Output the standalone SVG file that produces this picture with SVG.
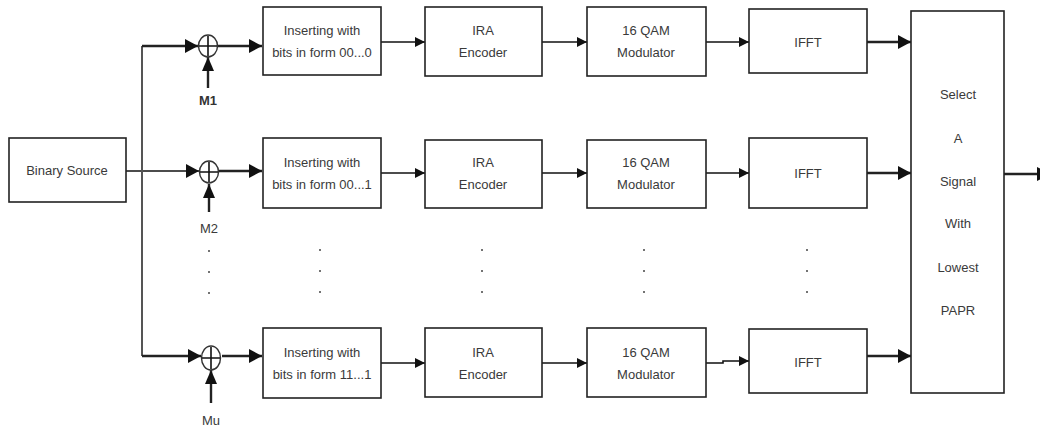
<svg xmlns="http://www.w3.org/2000/svg" width="1040" height="430" viewBox="0 0 1040 430">
<defs>
<marker id="big" markerUnits="userSpaceOnUse" markerWidth="13" markerHeight="14" refX="13" refY="7" orient="auto"><path d="M0,0 L13,7 L0,14 Z" fill="#111"/></marker>
<marker id="small" markerUnits="userSpaceOnUse" markerWidth="10" markerHeight="10" refX="10" refY="5" orient="auto"><path d="M0,0 L10,5 L0,10 Z" fill="#111"/></marker>
<marker id="up" markerUnits="userSpaceOnUse" markerWidth="12" markerHeight="14" refX="14" refY="6" orient="auto"><path d="M0,0 L14,6 L0,12 Z" fill="#111"/></marker>
</defs>
<style>
.box{fill:#fff;stroke:#222;stroke-width:1.6}
.t{font-family:"Liberation Sans",Arial,sans-serif;font-size:13px;fill:#3a3a3a;text-anchor:middle}
.lab{font-family:"Liberation Sans",Arial,sans-serif;font-size:13px;fill:#333;text-anchor:middle;font-weight:bold}
.thin{stroke:#111;stroke-width:1.6;fill:none}
.thick{stroke:#222;stroke-width:2.4;fill:none}
.trunk{stroke:#555;stroke-width:2;fill:none}
.sum{fill:#fff;stroke:#333;stroke-width:1.4}
.dot{fill:#444}
</style>
<g id="connectors">
<line class="thin" x1="126" y1="171" x2="199" y2="171" marker-end="url(#big)"/>
<path class="trunk" d="M142,356 L142,46"/>
<line class="thick" x1="142" y1="46" x2="198" y2="46" marker-end="url(#big)"/>
<line class="thick" x1="142" y1="356" x2="201" y2="356" marker-end="url(#big)"/>
<line class="thick" x1="218" y1="46" x2="262" y2="46" marker-end="url(#big)"/>
<line class="thick" x1="219" y1="171" x2="262" y2="171" marker-end="url(#big)"/>
<line class="thick" x1="222" y1="356" x2="262" y2="356" marker-end="url(#big)"/>
<line class="thick" x1="208" y1="88" x2="208" y2="57" marker-end="url(#up)"/>
<line class="thick" x1="209" y1="212" x2="209" y2="184" marker-end="url(#up)"/>
<line class="thick" x1="211" y1="403" x2="211" y2="370" marker-end="url(#up)"/>
<line class="thin" x1="381" y1="42" x2="425" y2="42" marker-end="url(#small)"/>
<line class="thin" x1="381" y1="173" x2="425" y2="173" marker-end="url(#small)"/>
<line class="thin" x1="381" y1="363" x2="425" y2="363" marker-end="url(#small)"/>
<line class="thin" x1="542" y1="42" x2="587" y2="42" marker-end="url(#small)"/>
<line class="thin" x1="542" y1="173" x2="587" y2="173" marker-end="url(#small)"/>
<line class="thin" x1="542" y1="363" x2="587" y2="363" marker-end="url(#small)"/>
<line class="thin" x1="706" y1="42" x2="749" y2="42" marker-end="url(#small)"/>
<line class="thin" x1="706" y1="173" x2="749" y2="173" marker-end="url(#small)"/>
<path class="thin" d="M706,363 L723,363 L723,361 L749,361" marker-end="url(#small)"/>
<line class="thick" x1="867" y1="42" x2="911" y2="42" marker-end="url(#big)"/>
<line class="thick" x1="867" y1="173" x2="911" y2="173" marker-end="url(#big)"/>
<line class="thick" x1="867" y1="356" x2="911" y2="356" marker-end="url(#big)"/>
<line class="thick" x1="1004" y1="174" x2="1050" y2="174" marker-end="url(#big)"/>
</g>
<g id="binary-source"><rect class="box" x="9" y="138" width="117" height="64"/><text class="t" x="67" y="175">Binary Source</text></g>
<g id="sum1"><ellipse class="sum" cx="208" cy="46" rx="9.5" ry="11"/><path class="thin" d="M199,46 H217 M208,36 V56" stroke-width="1.2"/><text class="lab" x="208" y="105">M1</text></g>
<g id="sum2"><ellipse class="sum" cx="209" cy="172" rx="9.5" ry="11"/><path class="thin" d="M200,172 H218 M209,162 V182" stroke-width="1.2"/><text class="t" x="209" y="233">M2</text></g>
<g id="sumu"><ellipse class="sum" cx="211" cy="358" rx="9.5" ry="12"/><path class="thin" d="M202,358 H220 M211,347 V369" stroke-width="1.2"/><text class="t" x="211" y="425">Mu</text></g>
<g id="insert1"><rect class="box" x="263" y="7" width="118" height="68"/><text class="t" x="322" y="35">Inserting with</text><text class="t" x="322" y="57">bits in form 00...0</text></g>
<g id="insert2"><rect class="box" x="263" y="138" width="118" height="70"/><text class="t" x="322" y="167">Inserting with</text><text class="t" x="322" y="189">bits in form 00...1</text></g>
<g id="insertu"><rect class="box" x="263" y="328" width="118" height="70"/><text class="t" x="322" y="357">Inserting with</text><text class="t" x="322" y="379">bits in form 11...1</text></g>
<g id="ira1"><rect class="box" x="425" y="7" width="117" height="69"/><text class="t" x="483" y="35">IRA</text><text class="t" x="483" y="57">Encoder</text></g>
<g id="ira2"><rect class="box" x="425" y="140" width="117" height="68"/><text class="t" x="483" y="167">IRA</text><text class="t" x="483" y="189">Encoder</text></g>
<g id="irau"><rect class="box" x="425" y="328" width="117" height="69"/><text class="t" x="483" y="357">IRA</text><text class="t" x="483" y="379">Encoder</text></g>
<g id="qam1"><rect class="box" x="587" y="7" width="119" height="69"/><text class="t" x="646" y="35">16 QAM</text><text class="t" x="646" y="57">Modulator</text></g>
<g id="qam2"><rect class="box" x="587" y="140" width="119" height="68"/><text class="t" x="646" y="167">16 QAM</text><text class="t" x="646" y="189">Modulator</text></g>
<g id="qamu"><rect class="box" x="587" y="328" width="119" height="69"/><text class="t" x="646" y="357">16 QAM</text><text class="t" x="646" y="379">Modulator</text></g>
<g id="ifft1"><rect class="box" x="749" y="9" width="118" height="64"/><text class="t" x="808" y="47">IFFT</text></g>
<g id="ifft2"><rect class="box" x="749" y="138" width="118" height="70"/><text class="t" x="808" y="178">IFFT</text></g>
<g id="ifftu"><rect class="box" x="749" y="329" width="118" height="64"/><text class="t" x="808" y="367">IFFT</text></g>
<g id="select"><rect class="box" x="911" y="11" width="93" height="382"/>
<text class="t" x="958" y="99">Select</text><text class="t" x="958" y="143">A</text><text class="t" x="958" y="186">Signal</text><text class="t" x="958" y="228">With</text><text class="t" x="958" y="272">Lowest</text><text class="t" x="958" y="315">PAPR</text></g>
<g id="ellipsis">
<circle class="dot" cx="209" cy="251" r="1"/><circle class="dot" cx="209" cy="272" r="1"/><circle class="dot" cx="209" cy="293" r="1"/>
<circle class="dot" cx="320" cy="250" r="1"/><circle class="dot" cx="320" cy="271" r="1"/><circle class="dot" cx="320" cy="292" r="1"/>
<circle class="dot" cx="482" cy="250" r="1"/><circle class="dot" cx="482" cy="271" r="1"/><circle class="dot" cx="482" cy="292" r="1"/>
<circle class="dot" cx="644" cy="250" r="1"/><circle class="dot" cx="644" cy="271" r="1"/><circle class="dot" cx="644" cy="292" r="1"/>
<circle class="dot" cx="807" cy="250" r="1"/><circle class="dot" cx="807" cy="271" r="1"/><circle class="dot" cx="807" cy="292" r="1"/>
</g>
</svg>
